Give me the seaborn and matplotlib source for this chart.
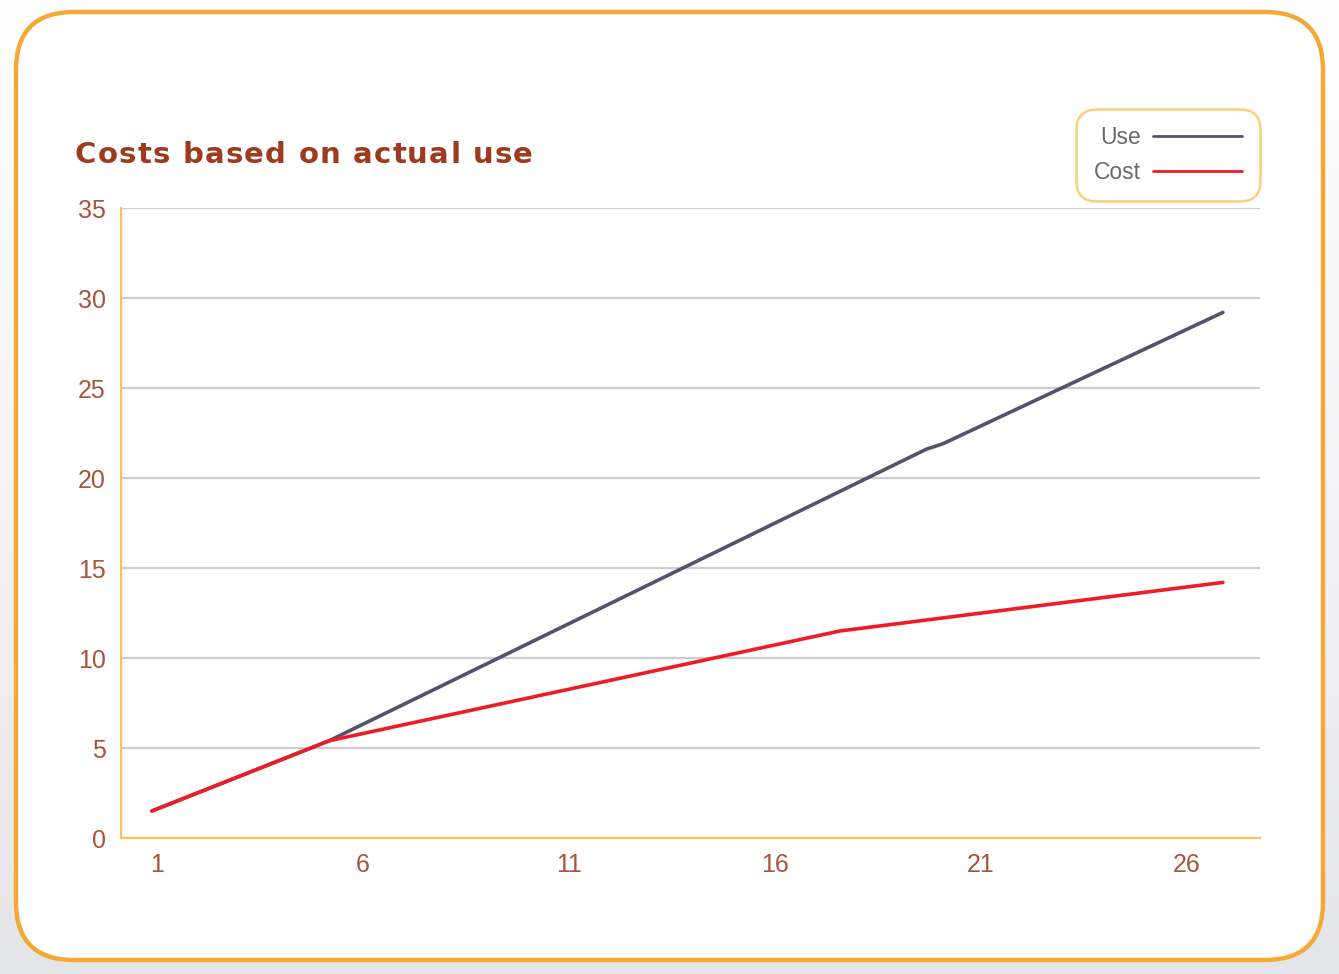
import matplotlib.pyplot as plt
import matplotlib.transforms as mtransforms
import seaborn as sns
import numpy as np
import pandas as pd
from matplotlib.patches import FancyBboxPatch

# --- Data ---
use_x = [1, 5.3, 19.8, 20.2, 27]
use_y = [1.5, 5.4, 21.6, 21.9, 29.2]
cost_x = [1, 5.3, 17.7, 27]
cost_y = [1.5, 5.4, 11.5, 14.2]
x_ticks = [1, 6, 11, 16, 21, 26]
y_ticks = [0, 5, 10, 15, 20, 25, 30, 35]
title = "Costs based on actual use"

df = pd.concat([
    pd.DataFrame({"day": use_x, "value": use_y, "series": "Use"}),
    pd.DataFrame({"day": cost_x, "value": cost_y, "series": "Cost"}),
])

sns.set_theme(style="white")
plt.rcParams['font.family'] = ['Liberation Sans', 'DejaVu Sans']

W, H = 1339, 974
fig = plt.figure(figsize=(W / 100, H / 100), dpi=100)

# background gradient + rounded orange frame
bg = fig.add_axes([0, 0, 1, 1], zorder=-10)
grad = np.linspace(0, 1, 200)[:, None] * np.ones((1, 10))
bg.imshow(grad, extent=[0, W, H, 0], cmap=sns.blend_palette(["#FFFFFF", "#F3F3F5", "#E4E5E8"], as_cmap=True),
          aspect='auto')
bg.add_patch(FancyBboxPatch((16, 12), W - 32, H - 26, boxstyle="round,pad=0,rounding_size=58",
                            facecolor="white", edgecolor="#F5A833", linewidth=3.2))
bg.set_xlim(0, W)
bg.set_ylim(H, 0)
bg.axis('off')

ax = fig.add_axes([121 / W, 1 - 838 / H, (1260 - 121) / W, (838 - 208) / H])
ax.set_facecolor('none')
sns.lineplot(data=df, x="day", y="value", hue="series", estimator=None, sort=False,
             palette={"Use": "#57506E", "Cost": "#EE1C25"}, linewidth=2.6, ax=ax, legend=True)

ax.set_xlim(0.25, 27.9)
ax.set_ylim(0, 35)
ax.set_xticks(x_ticks)
ax.set_yticks(y_ticks)
ax.yaxis.grid(True, color="#CDCDD1", linewidth=1.6)
ax.set_axisbelow(True)
for s in ["top", "right"]:
    ax.spines[s].set_visible(False)
for s in ["left", "bottom"]:
    ax.spines[s].set_color("#FBC35C")
    ax.spines[s].set_linewidth(1.6)
ax.tick_params(axis='both', length=0, labelsize=18, labelcolor="#A9533B")
ax.tick_params(axis='y', pad=11)
ax.tick_params(axis='x', pad=11)
ax.set_xlabel("")
ax.set_ylabel("")

# x labels in the original sit a little right of their ticks
shift = mtransforms.ScaledTranslation(5 / 100, 0, fig.dpi_scale_trans)
for lbl in ax.get_xticklabels():
    lbl.set_transform(lbl.get_transform() + shift)

# title drawn letter by letter to get the wide tracking of the original
renderer = fig.canvas.get_renderer()
tprops = dict(fontsize=21, fontweight='bold', color="#9E3A1E", family=['DejaVu Sans'])


def text_width(s):
    t = fig.text(0, 0, s, **tprops)
    w = t.get_window_extent(renderer).width
    t.remove()
    return w


x0, target = 75, 458
natural = text_width(title)
track = (target - natural) / (len(title) - 1)
for i, ch in enumerate(title):
    if ch == " ":
        continue
    pos = text_width(title[:i + 1]) - text_width(ch) + i * track
    fig.text((x0 + pos) / W, 1 - 155 / H, ch, va='center', ha='left', **tprops)

handles, labels = ax.get_legend_handles_labels()
leg = ax.legend(handles, labels, loc='center', bbox_to_anchor=(1168 / W, 1 - 155 / H),
                bbox_transform=fig.transFigure, markerfirst=False, fontsize=16.5,
                handlelength=3.9, labelspacing=0.55, handletextpad=0.55, borderpad=0.75,
                frameon=True, fancybox=True)
for t in leg.get_texts():
    t.set_color("#6A6A6A")
for line in leg.get_lines():
    line.set_linewidth(2)
frame = leg.get_frame()
frame.set_edgecolor("#FBC35C")
frame.set_linewidth(1.8)
frame.set_boxstyle("round,pad=0,rounding_size=0.9")

fig.savefig("out.png", dpi=100)
